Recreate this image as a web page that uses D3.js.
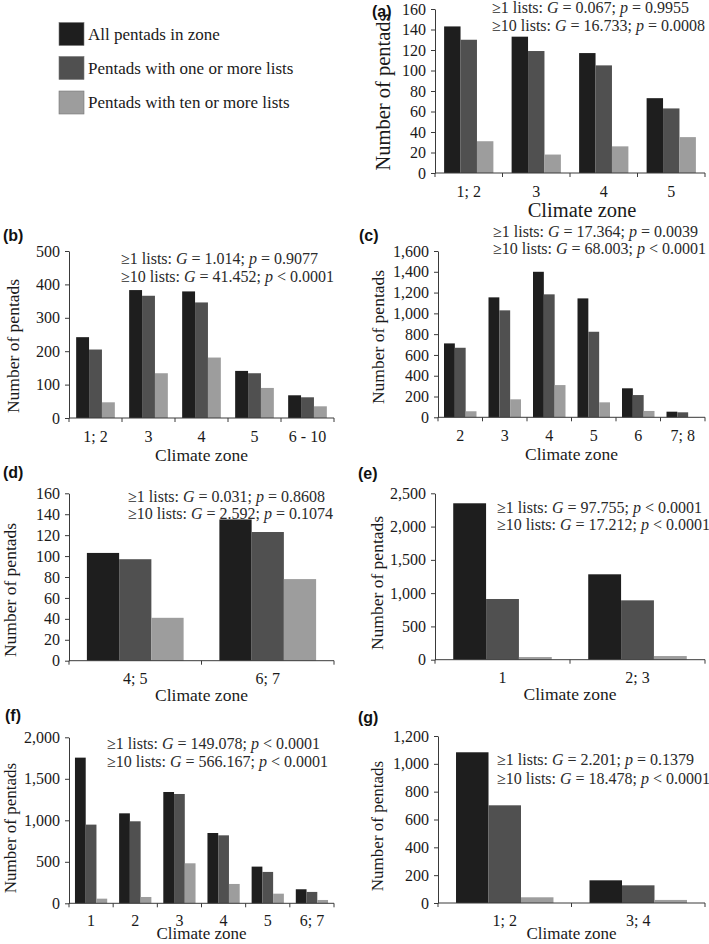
<!DOCTYPE html>
<html><head><meta charset="utf-8">
<script src="https://cdn.jsdelivr.net/npm/d3@7"></script>
<style>
html,body{margin:0;padding:0;background:#fff;}
svg{display:block;}
</style></head>
<body>
<svg id="chart" width="709" height="944"></svg>
<script>
// ---------- DATA ----------
const seriesNames = ["All pentads in zone", "Pentads with one or more lists", "Pentads with ten or more lists"];
const seriesColors = ["#1e1e1e", "#505050", "#9d9d9d"];

const catsA = ["1; 2", "3", "4", "5"];
const allA = [143, 133, 117, 73];
const oneA = [130, 119, 105, 63];
const tenA = [31, 18, 26, 35];
const ticksA = [0, 20, 40, 60, 80, 100, 120, 140, 160];
const statsA = ["0.067", "=", "0.9955", "16.733", "=", "0.0008"];

const catsB = ["1; 2", "3", "4", "5", "6 - 10"];
const allB = [242, 383, 379, 141, 68];
const oneB = [205, 366, 346, 134, 62];
const tenB = [47, 134, 181, 90, 35];
const ticksB = [0, 100, 200, 300, 400, 500];
const statsB = ["1.014", "=", "0.9077", "41.452", "<", "0.0001"];

const catsC = ["2", "3", "4", "5", "6", "7; 8"];
const allC = [711, 1154, 1400, 1144, 279, 54];
const oneC = [669, 1029, 1183, 823, 214, 48];
const tenC = [58, 173, 310, 144, 61, 2];
const ticksC = [0, 200, 400, 600, 800, 1000, 1200, 1400, 1600];
const statsC = ["17.364", "=", "0.0039", "68.003", "<", "0.0001"];

const catsD = ["4; 5", "6; 7"];
const allD = [103, 135];
const oneD = [97, 123];
const tenD = [41, 78];
const ticksD = [0, 20, 40, 60, 80, 100, 120, 140, 160];
const statsD = ["0.031", "=", "0.8608", "2.592", "=", "0.1074"];

const catsE = ["1", "2; 3"];
const allE = [2350, 1283];
const oneE = [912, 892];
const tenE = [40, 55];
const ticksE = [0, 500, 1000, 1500, 2000, 2500];
const statsE = ["97.755", "<", "0.0001", "17.212", "<", "0.0001"];

const catsF = ["1", "2", "3", "4", "5", "6; 7"];
const allF = [1755, 1084, 1341, 847, 442, 169];
const oneF = [948, 988, 1317, 819, 378, 137];
const tenF = [56, 76, 482, 233, 116, 40];
const ticksF = [0, 500, 1000, 1500, 2000];
const statsF = ["149.078", "<", "0.0001", "566.167", "<", "0.0001"];

const catsG = ["1; 2", "3; 4"];
const allG = [1083, 163];
const oneG = [702, 127];
const tenG = [41, 22];
const ticksG = [0, 200, 400, 600, 800, 1000, 1200];
const statsG = ["2.201", "=", "0.1379", "18.478", "<", "0.0001"];

const xTitle = "Climate zone";
const yTitle = "Number of pentads";

// ---------- LAYOUT ----------
const panels = [
  {id:"(a)", cats:catsA, vals:[allA,oneA,tenA], ticks:ticksA, stats:statsA,
   x0:435, x1:705, y0:173, yt:9, lab:[372,11], ann:[492,7,25], ytx:383, yty:92, xtDx:12, titleSize:20.5, xty:37, tly:18},
  {id:"(b)", cats:catsB, vals:[allB,oneB,tenB], ticks:ticksB, stats:statsB,
   x0:69, x1:334, y0:418, yt:251, lab:[3,235], ann:[121,258,276], ytx:13, yty:346, xtDx:0, titleSize:17.5, xty:37, tly:18},
  {id:"(c)", cats:catsC, vals:[allC,oneC,tenC], ticks:ticksC, stats:statsC,
   x0:438, x1:705, y0:417.3, yt:251, lab:[359,235], ann:[493,231,248], ytx:378, yty:337, xtDx:0, titleSize:17.5, xty:37, tly:18},
  {id:"(d)", cats:catsD, vals:[allD,oneD,tenD], ticks:ticksD, stats:statsD,
   x0:69, x1:334, y0:660.7, yt:493.3, lab:[3,472], ann:[128,496,513], ytx:10, yty:590, xtDx:0, titleSize:17.5, xty:34, tly:18},
  {id:"(e)", cats:catsE, vals:[allE,oneE,tenE], ticks:ticksE, stats:statsE,
   x0:435, x1:705, y0:659.7, yt:493.3, lab:[358,473], ann:[497,507,524], ytx:377, yty:583, xtDx:0, titleSize:17.5, xty:34, tly:18},
  {id:"(f)", cats:catsF, vals:[allF,oneF,tenF], ticks:ticksF, stats:statsF,
   x0:69, x1:334, y0:903.3, yt:737.3, lab:[5,715], ann:[107,743,761], ytx:10, yty:828, xtDx:0, titleSize:17, xty:30.2, tly:17},
  {id:"(g)", cats:catsG, vals:[allG,oneG,tenG], ticks:ticksG, stats:statsG,
   x0:438, x1:705, y0:903, yt:736, lab:[358,717], ann:[497,759,778], ytx:377, yty:826, xtDx:0, titleSize:17, xty:30.5, tly:17}
];

const serif = "'Liberation Serif','Times New Roman',Times,serif";
const sans = "'Liberation Sans',Arial,Helvetica,sans-serif";
const textColor = "#1a1a1a";
const axisColor = "#3a3a3a";

const svg = d3.select("#chart");

// ---------- LEGEND ----------
const legRows = [34, 68, 102.5];
const leg = svg.append("g");
seriesNames.forEach((name, i) => {
  leg.append("rect").attr("x", 59).attr("y", legRows[i] - 11.5).attr("width", 25).attr("height", 23)
    .attr("fill", seriesColors[i]).attr("stroke", "#777").attr("stroke-width", 0.6);
  leg.append("text").attr("x", 88).attr("y", legRows[i]).attr("dy", "0.35em")
    .attr("font-family", serif).attr("font-size", 17).attr("fill", textColor).text(name);
});

// ---------- PANELS ----------
panels.forEach(p => {
  const g = svg.append("g");
  const maxTick = p.ticks[p.ticks.length - 1];
  const y = d3.scaleLinear().domain([0, maxTick]).range([p.y0, p.yt]);
  const x = d3.scaleBand().domain(p.cats).range([p.x0, p.x1]).paddingInner(0.27).paddingOuter(0.135);
  const xs = d3.scaleBand().domain(d3.range(3)).range([0, x.bandwidth()]);

  // bars
  p.cats.forEach((c, ci) => {
    for (let s = 0; s < 3; s++) {
      const v = p.vals[s][ci];
      g.append("rect")
        .attr("x", x(c) + xs(s))
        .attr("y", y(v))
        .attr("width", xs.bandwidth())
        .attr("height", Math.max(0, p.y0 - y(v)))
        .attr("fill", seriesColors[s]);
    }
  });

  // y axis
  const ya = g.append("g").attr("transform", `translate(${p.x0},0)`)
    .call(d3.axisLeft(y).tickValues(p.ticks).tickFormat(d3.format(",")).tickSize(4).tickSizeOuter(0).tickPadding(5));
  ya.select(".domain").attr("stroke", axisColor);
  ya.selectAll(".tick line").attr("stroke", axisColor);
  ya.selectAll(".tick text").attr("font-family", serif).attr("font-size", 16).attr("fill", textColor);

  // x axis line
  g.append("line").attr("x1", p.x0).attr("x2", p.x1).attr("y1", p.y0).attr("y2", p.y0)
    .attr("stroke", axisColor).attr("stroke-width", 1);
  // boundary ticks
  const step = x.step();
  d3.range(p.cats.length + 1).forEach(i => {
    const xx = p.x0 + i * step;
    g.append("line").attr("x1", xx).attr("x2", xx).attr("y1", p.y0).attr("y2", p.y0 + 4)
      .attr("stroke", axisColor);
  });
  // category labels
  p.cats.forEach(c => {
    g.append("text").attr("x", x(c) + x.bandwidth() / 2).attr("y", p.y0 + p.tly).attr("dy", "0.35em")
      .attr("text-anchor", "middle").attr("font-family", serif).attr("font-size", 16)
      .attr("fill", textColor).text(c);
  });

  // axis titles
  g.append("text").attr("x", (p.x0 + p.x1) / 2 + p.xtDx).attr("y", p.y0 + p.xty).attr("dy", "0.35em")
    .attr("text-anchor", "middle").attr("font-family", serif).attr("font-size", p.titleSize)
    .attr("fill", textColor).text(xTitle);
  g.append("text").attr("transform", `translate(${p.ytx},${p.yty}) rotate(-90)`).attr("dy", "0.35em")
    .attr("text-anchor", "middle").attr("font-family", serif).attr("font-size", p.titleSize)
    .attr("fill", textColor).text(yTitle);

  // panel label
  g.append("text").attr("x", p.lab[0]).attr("y", p.lab[1]).attr("dy", "0.35em")
    .attr("font-family", sans).attr("font-weight", "bold").attr("font-size", 16)
    .attr("fill", "#111").text(p.id);

  // annotation
  const lines = [["≥1 lists: ", p.stats[0], p.stats[1], p.stats[2]],
                 ["≥10 lists: ", p.stats[3], p.stats[4], p.stats[5]]];
  lines.forEach((ln, li) => {
    const t = g.append("text").attr("x", p.ann[0]).attr("y", p.ann[1 + li]).attr("dy", "0.35em")
      .attr("font-family", serif).attr("font-size", 16).attr("fill", "#2a2a2a");
    t.append("tspan").text(ln[0]);
    t.append("tspan").attr("font-style", "italic").text("G");
    t.append("tspan").text(" = " + ln[1] + "; ");
    t.append("tspan").attr("font-style", "italic").text("p");
    t.append("tspan").text(" " + ln[2] + " " + ln[3]);
  });
});
</script>
</body></html>
